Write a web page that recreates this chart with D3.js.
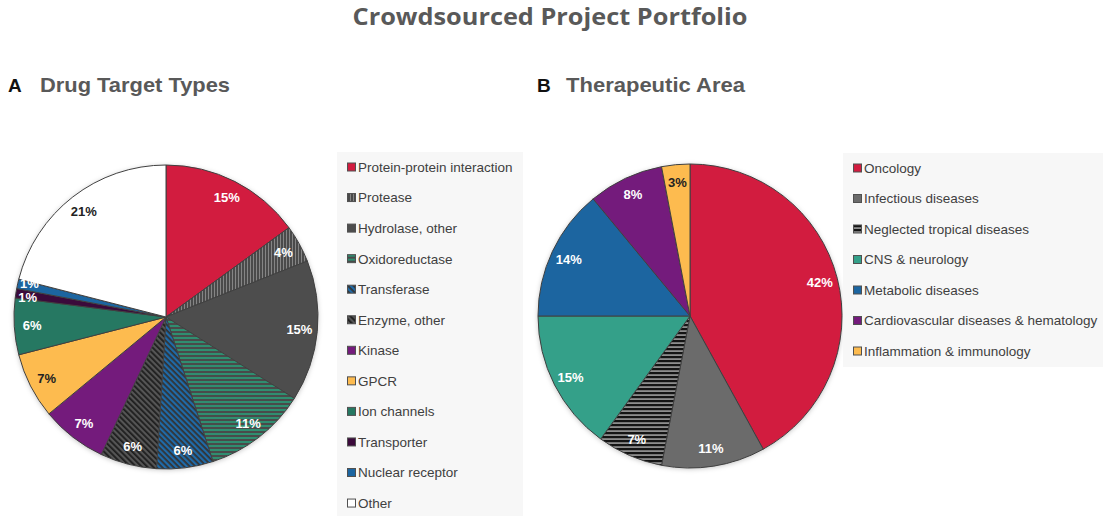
<!DOCTYPE html>
<html>
<head>
<meta charset="utf-8">
<script src="https://cdn.jsdelivr.net/npm/d3@7/dist/d3.min.js"></script>
<style>
  html, body { margin: 0; padding: 0; background: #ffffff; }
  svg { display: block; }
</style>
</head>
<body>
<svg id="chart" width="1106" height="516"></svg>
<script>
// ---------- DATA ----------
const targetTypes = ["Protein-protein interaction", "Protease", "Hydrolase, other", "Oxidoreductase",
  "Transferase", "Enzyme, other", "Kinase", "GPCR", "Ion channels", "Transporter", "Nuclear receptor", "Other"];
const targetShares = [15, 4, 15, 11, 6, 6, 7, 7, 6, 1, 1, 21];

const areaTypes = ["Oncology", "Infectious diseases", "Neglected tropical diseases", "CNS & neurology",
  "Metabolic diseases", "Cardiovascular diseases & hematology", "Inflammation & immunology"];
const areaShares = [42, 11, 7, 15, 14, 8, 3];

// ---------- STYLES ----------
const targetFills = ["#d21c3f", "url(#pProtease)", "#4d4d4d", "url(#pOxido)", "url(#pTransfer)",
  "url(#pEnzyme)", "#741b7c", "#fdbb4f", "#267862", "#3b0a3b", "#1c65a0", "#ffffff"];
const targetLabelColors = ["#fff", "#fff", "#fff", "#fff", "#fff", "#fff", "#fff", "#222", "#fff", "#fff", "#fff", "#222"];
const areaFills = ["#d21c3f", "#6b6b6b", "url(#pNeglect)", "#34a089", "#1c65a0", "#741b7c", "#fdbb4f"];
const areaLabelColors = ["#fff", "#fff", "#fff", "#fff", "#fff", "#fff", "#222"];

const svg = d3.select("#chart");
const defs = svg.append("defs");

function stripePattern(id, w, h, bg, fg, draw, transform) {
  const p = defs.append("pattern").attr("id", id).attr("patternUnits", "userSpaceOnUse")
    .attr("width", w).attr("height", h);
  if (transform) p.attr("patternTransform", transform);
  p.append("rect").attr("width", w).attr("height", h).attr("fill", bg);
  draw(p, fg);
}
stripePattern("pProtease", 3, 3, "#4a4a4a", "#858585", (p, c) =>
  p.append("rect").attr("x", 0).attr("y", 0).attr("width", 1).attr("height", 3).attr("fill", c));
stripePattern("pOxido", 4, 4, "#4a4a4a", "#2f8e70", (p, c) =>
  p.append("rect").attr("x", 0).attr("y", 0).attr("width", 4).attr("height", 2).attr("fill", c));
stripePattern("pTransfer", 4, 4, "#333333", "#1f6aa8", (p, c) =>
  p.append("rect").attr("x", 0).attr("y", 0).attr("width", 2.2).attr("height", 4).attr("fill", c), "rotate(-45)");
stripePattern("pEnzyme", 4, 4, "#555555", "#1e1e1e", (p, c) =>
  p.append("rect").attr("x", 0).attr("y", 0).attr("width", 1.8).attr("height", 4).attr("fill", c), "rotate(-45)");
stripePattern("pNeglect", 4, 4, "#8d8d8d", "#141414", (p, c) =>
  p.append("rect").attr("x", 0).attr("y", 0).attr("width", 4).attr("height", 2.2).attr("fill", c));

const shadow = defs.append("filter").attr("id", "shadow").attr("x", "-10%").attr("y", "-10%")
  .attr("width", "120%").attr("height", "120%");
shadow.append("feDropShadow").attr("dx", 0).attr("dy", 1).attr("stdDeviation", 2.5)
  .attr("flood-color", "#000").attr("flood-opacity", 0.25);

// ---------- TITLES ----------
svg.append("text").attr("x", 550).attr("y", 25).attr("text-anchor", "middle")
  .attr("font-family", "'Open Sans', sans-serif").attr("font-weight", "bold")
  .attr("font-size", 23).attr("fill", "#595959")
  .attr("textLength", 395).attr("lengthAdjust", "spacingAndGlyphs")
  .text("Crowdsourced Project Portfolio");

function header(letterX, titleX, letter, title, width) {
  svg.append("text").attr("x", letterX).attr("y", 92)
    .attr("font-family", "'Liberation Sans', Arial, sans-serif").attr("font-weight", "bold")
    .attr("font-size", 19).attr("fill", "#111").text(letter);
  svg.append("text").attr("x", titleX).attr("y", 92)
    .attr("font-family", "'Liberation Sans', Arial, sans-serif").attr("font-weight", "bold")
    .attr("font-size", 21).attr("fill", "#595959")
    .attr("textLength", width).attr("lengthAdjust", "spacingAndGlyphs").text(title);
}
header(8, 40, "A", "Drug Target Types", 190);
header(537, 566, "B", "Therapeutic Area", 179);

// ---------- PIES ----------
const radius = 152;
const arc = d3.arc().innerRadius(0).outerRadius(radius);
const labelArc = d3.arc().innerRadius(134).outerRadius(134);
const smallLabelArc = d3.arc().innerRadius(140).outerRadius(140);
const pie = d3.pie().sort(null).value(d => d);

function labelPositions(arcs) {
  const pos = arcs.map(d => (d.endAngle - d.startAngle) < 0.15 ? smallLabelArc.centroid(d) : labelArc.centroid(d));
  // simple vertical separation for labels that collide
  for (let iter = 0; iter < 20; iter++) {
    for (let i = 0; i < pos.length; i++) {
      for (let j = i + 1; j < pos.length; j++) {
        const dx = Math.abs(pos[i][0] - pos[j][0]), dy = pos[j][1] - pos[i][1];
        if (dx < 24 && Math.abs(dy) < 14) {
          const push = (14 - Math.abs(dy)) / 2 * (dy >= 0 ? 1 : -1);
          pos[i][1] -= push; pos[j][1] += push;
        }
      }
    }
  }
  return pos;
}

function drawPie(cx, cy, names, values, fills, labelColors) {
  const g = svg.append("g").attr("transform", `translate(${cx},${cy})`);
  const arcs = pie(values);
  const pos = labelPositions(arcs);
  g.append("circle").attr("r", radius).attr("fill", "#fff").attr("filter", "url(#shadow)");
  g.selectAll("path.slice").data(arcs).join("path").attr("class", "slice")
    .attr("d", arc).attr("fill", (d, i) => fills[i])
    .attr("stroke", "#404040").attr("stroke-width", 1).attr("stroke-linejoin", "round");
  g.selectAll("text.lbl").data(arcs).join("text").attr("class", "lbl")
    .attr("transform", (d, i) => `translate(${pos[i]})`)
    .attr("text-anchor", "middle").attr("dy", "0.36em")
    .attr("font-family", "'Liberation Sans', Arial, sans-serif").attr("font-weight", "bold")
    .attr("font-size", 13).attr("fill", (d, i) => labelColors[i])
    .text(d => d.data + "%");
}
drawPie(166, 317, targetTypes, targetShares, targetFills, targetLabelColors);
drawPie(690, 316, areaTypes, areaShares, areaFills, areaLabelColors);

// ---------- LEGENDS ----------
function drawLegend(x, y, w, h, names, fills, firstY, step) {
  const g = svg.append("g");
  g.append("rect").attr("x", x).attr("y", y).attr("width", w).attr("height", h).attr("fill", "#f7f7f7");
  const yScale = d3.scalePoint().domain(names).range([firstY, firstY + step * (names.length - 1)]);
  const items = g.selectAll("g.item").data(names).join("g").attr("class", "item")
    .attr("transform", d => `translate(${x + 10},${yScale(d)})`);
  items.append("rect").attr("x", 0.5).attr("y", -4).attr("width", 8).attr("height", 8)
    .attr("fill", (d, i) => fills[i]).attr("stroke", "#505050").attr("stroke-width", 1);
  items.append("text").attr("x", 11).attr("dy", "0.36em")
    .attr("font-family", "'Liberation Sans', Arial, sans-serif")
    .attr("font-size", 13.5).attr("fill", "#404040").text(d => d);
}
drawLegend(337, 152, 186, 364, targetTypes, targetFills, 167, 30.55);
drawLegend(843, 153, 260, 214, areaTypes, areaFills, 168, 30.5);
</script>
</body>
</html>
